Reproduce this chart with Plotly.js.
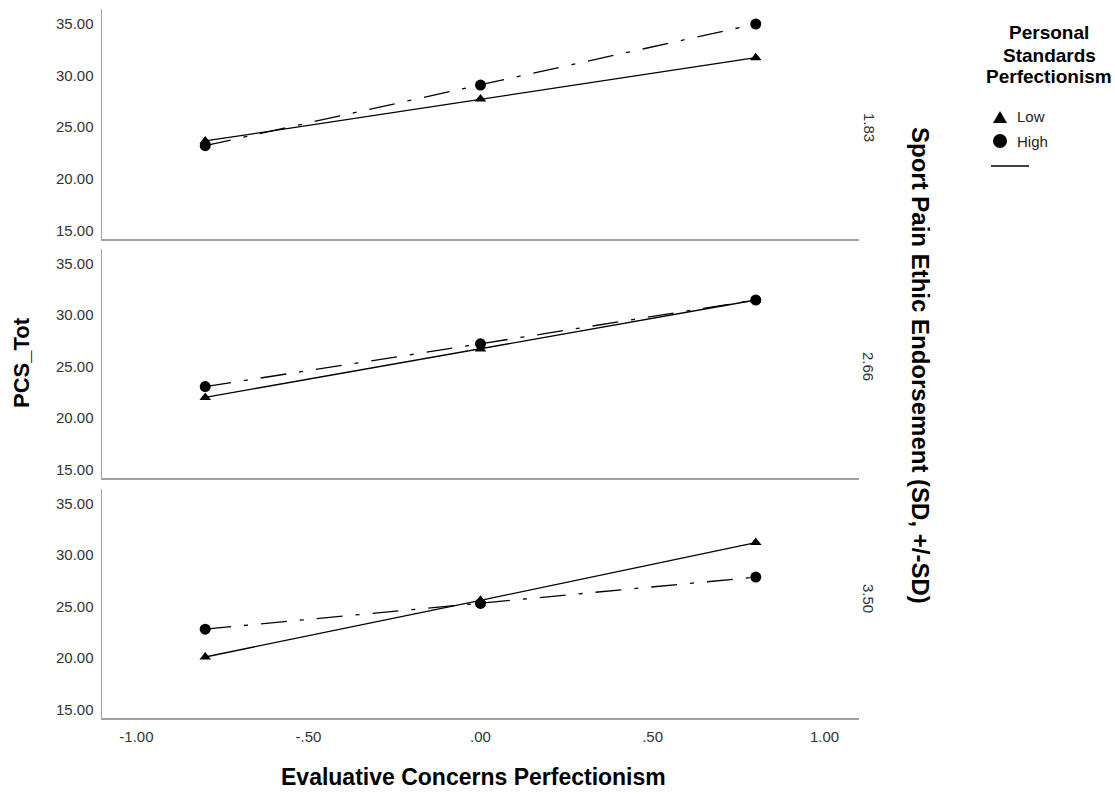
<!DOCTYPE html>
<html>
<head>
<meta charset="utf-8">
<script src="https://cdn.plot.ly/plotly-3.0.1.min.js"></script>
<style>html,body{margin:0;padding:0;background:#fff;}#chart{width:1115px;height:794px;}</style>
</head>
<body>
<div id="chart"></div>
<script>
// ---- data ----
var xValues = [-0.8, 0.0, 0.8];
var panelLabels = ["1.83", "2.66", "3.50"];           // top, middle, bottom
var lowSeries = [
  [23.65, 27.7, 31.7],    // 1.83
  [22.0, 26.7, 31.45],    // 2.66
  [20.1, 25.6, 31.2]      // 3.50
];
var highSeries = [
  [23.2, 29.05, 34.95],   // 1.83
  [23.05, 27.2, 31.45],   // 2.66
  [22.8, 25.3, 27.85]     // 3.50
];
var xTickVals = [-1, -0.5, 0, 0.5, 1];
var xTickText = ["-1.00", "-.50", ".00", ".50", "1.00"];
var yTickVals = [15, 20, 25, 30, 35];
var yTickText = ["15.00", "20.00", "25.00", "30.00", "35.00"];
var legendNames = ["Low", "High"];
var legendTitleLines = ["Personal", "Standards", "Perfectionism"];

// ---- layout geometry ----
var W = 1115, H = 794;
var L = 102, R = 859, T = 9, B = 718;
function px(xp) { return (xp - L) / (R - L); }
function py(yp) { return (B - yp) / (B - T); }

var panelPix = [[9, 239], [249, 478], [489, 718]]; // top, middle, bottom
var yNames = ["y3", "y2", "y"];
var xNames = ["x3", "x2", "x"];
var fontFam = "Liberation Sans, Arial, sans-serif";

var traces = [];
for (var p = 0; p < 3; p++) {
  traces.push({
    x: xValues, y: lowSeries[p], xaxis: xNames[p], yaxis: yNames[p],
    mode: "lines+markers", name: legendNames[0], showlegend: false,
    line: {color: "#000", width: 1.3},
    marker: {symbol: "triangle-up", size: 10, color: "#000"},
    hoverinfo: "x+y"
  });
  traces.push({
    x: xValues, y: highSeries[p], xaxis: xNames[p], yaxis: yNames[p],
    mode: "lines+markers", name: legendNames[1], showlegend: false,
    line: {color: "#000", width: 1.3, dash: "26px,13px,4px,13px"},
    marker: {symbol: "circle", size: 11, color: "#000"},
    hoverinfo: "x+y"
  });
}

var yRange = [14.18, 36.4];
function yAxis(p) {
  return {
    domain: [py(panelPix[p][1]), py(panelPix[p][0])],
    range: yRange, anchor: xNames[p],
    showline: true, linecolor: "#a0a0a0", linewidth: 1.5,
    showgrid: false, zeroline: false, ticks: "",
    tickvals: yTickVals, ticktext: yTickText,
    ticklabelstandoff: 4,
    tickfont: {family: fontFam, size: 15, color: "#333"},
    fixedrange: true
  };
}
function xAxis(p, labels) {
  return {
    domain: [0, 1], range: [-1.1, 1.1], anchor: yNames[p],
    showline: true, linecolor: "#a0a0a0", linewidth: 1.5,
    showgrid: false, zeroline: false, ticks: "",
    tickvals: xTickVals, ticktext: xTickText,
    showticklabels: labels, ticklabelstandoff: 4,
    tickfont: {family: fontFam, size: 15, color: "#333"},
    fixedrange: true
  };
}

var annotations = [];
// strip labels
var stripY = [127, 366, 598];
for (var p = 0; p < 3; p++) {
  annotations.push({
    xref: "paper", yref: "paper", x: px(869), y: py(stripY[p]),
    text: panelLabels[p], showarrow: false, textangle: 90,
    font: {family: fontFam, size: 15, color: "#333"},
    xanchor: "center", yanchor: "middle"
  });
}
// right title
annotations.push({
  xref: "paper", yref: "paper", x: px(921), y: py(365),
  text: "<b>Sport Pain Ethic Endorsement (SD, +/-SD)</b>", showarrow: false, textangle: 90,
  font: {family: fontFam, size: 24, color: "#000"}, xanchor: "center", yanchor: "middle"
});
// y title
annotations.push({
  xref: "paper", yref: "paper", x: px(21), y: py(363),
  text: "<b>PCS_Tot</b>", showarrow: false, textangle: -90,
  font: {family: fontFam, size: 22, color: "#000"}, xanchor: "center", yanchor: "middle"
});
// x title
annotations.push({
  xref: "paper", yref: "paper", x: px(473), y: py(777),
  text: "<b>Evaluative Concerns Perfectionism</b>", showarrow: false,
  font: {family: fontFam, size: 23, color: "#000"}, xanchor: "center", yanchor: "middle"
});
// legend title (one annotation per line)
var legTitleY = [33, 55, 77];
for (var k = 0; k < 3; k++) {
  annotations.push({
    xref: "paper", yref: "paper", x: px(1049), y: py(legTitleY[k]),
    text: "<b>" + legendTitleLines[k] + "</b>", showarrow: false,
    font: {family: fontFam, size: 19, color: "#000"}, xanchor: "center", yanchor: "middle"
  });
}
var legY = [117, 141];
for (var i = 0; i < 2; i++) {
  annotations.push({
    xref: "paper", yref: "paper", x: px(1015), y: py(legY[i]),
    text: legendNames[i], showarrow: false,
    font: {family: fontFam, size: 15, color: "#222"}, xanchor: "left", yanchor: "middle"
  });
}

var shapes = [];
// legend triangle
shapes.push({
  type: "path", xref: "paper", yref: "paper",
  path: "M " + px(993) + " " + py(123) + " L " + px(1007) + " " + py(123) + " L " + px(1000) + " " + py(111) + " Z",
  fillcolor: "#000", line: {width: 0}
});
// legend circle
shapes.push({
  type: "circle", xref: "paper", yref: "paper",
  x0: px(993), x1: px(1007), y0: py(148), y1: py(134),
  fillcolor: "#000", line: {width: 0}
});
// legend line sample
shapes.push({
  type: "line", xref: "paper", yref: "paper",
  x0: px(991), x1: px(1029), y0: py(166), y1: py(166),
  line: {color: "#000", width: 1.3}
});

var layout = {
  width: W, height: H,
  margin: {l: L, r: W - R, t: T, b: H - B, pad: 0},
  paper_bgcolor: "#fff", plot_bgcolor: "#fff",
  showlegend: false,
  font: {family: fontFam},
  xaxis: xAxis(2, true),
  xaxis2: xAxis(1, false),
  xaxis3: xAxis(0, false),
  yaxis: yAxis(2),
  yaxis2: yAxis(1),
  yaxis3: yAxis(0),
  annotations: annotations,
  shapes: shapes
};

Plotly.newPlot("chart", traces, layout, {displayModeBar: false, staticPlot: true});
</script>
</body>
</html>
